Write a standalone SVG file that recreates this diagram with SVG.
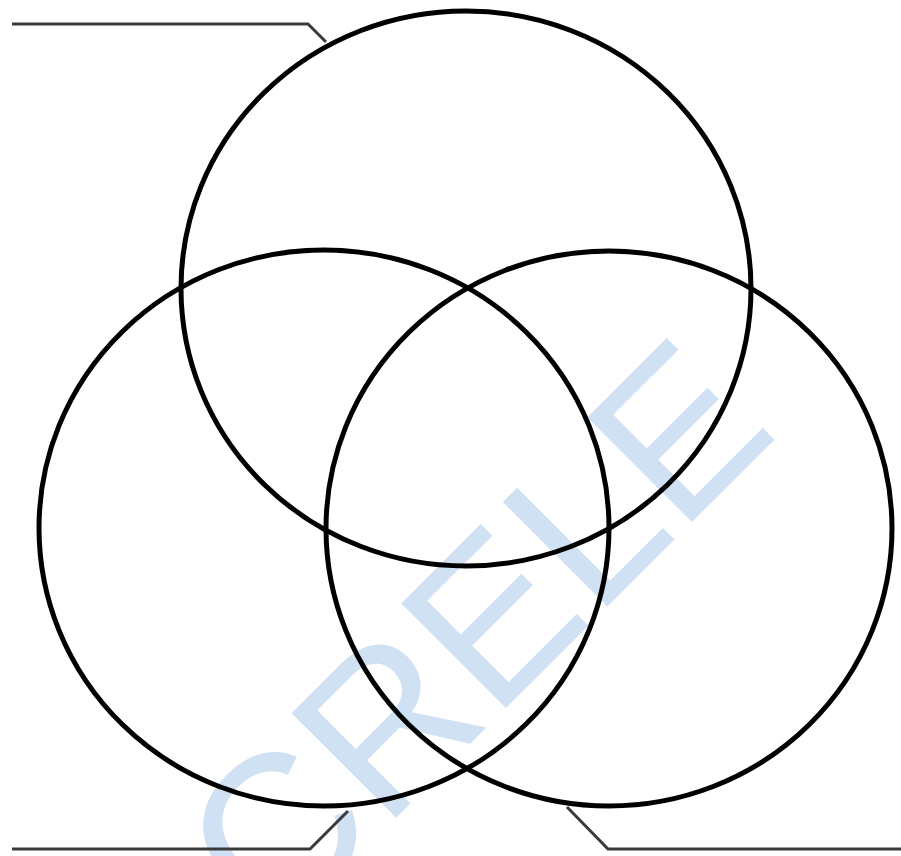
<svg xmlns="http://www.w3.org/2000/svg" width="901" height="856" viewBox="0 0 901 856">
<style>
.ring{fill:none;stroke:#000;stroke-width:5}
.lead{fill:none;stroke:#3a3a3a;stroke-width:3;stroke-linejoin:miter}
.wm{font-family:"Liberation Sans",Arial,sans-serif;font-size:215px;fill:#cfe1f2}
</style>
<rect width="901" height="856" fill="#fff"/>
<text class="wm" transform="translate(274,940) rotate(-45)">CRELE</text>
<g id="circle-top"><ellipse class="ring" cx="466" cy="288.5" rx="285" ry="277.5"/></g>
<g id="circle-left"><ellipse class="ring" cx="324" cy="528" rx="285" ry="278"/></g>
<g id="circle-right"><ellipse class="ring" cx="609" cy="528.5" rx="283" ry="277.5"/></g>
<g id="connectors">
<path class="lead" d="M12,24 H308 L326,42"/>
<path class="lead" d="M12,849 H310 L348,811"/>
<path class="lead" d="M567,807 L608,849 H901"/>
</g>
</svg>
